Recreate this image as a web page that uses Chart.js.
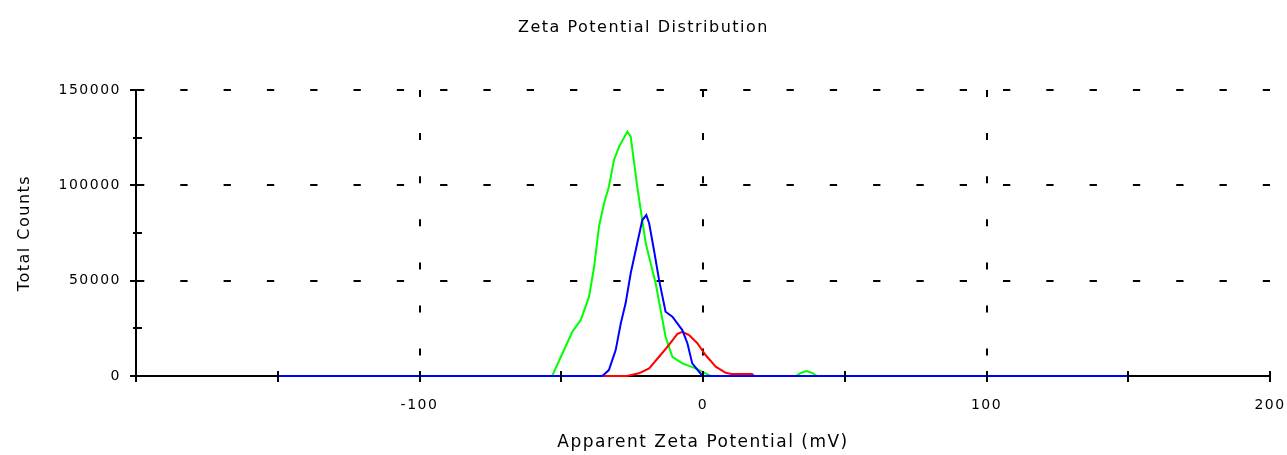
<!DOCTYPE html>
<html>
<head>
<meta charset="utf-8">
<title>Zeta Potential Distribution</title>
<script src="https://cdn.jsdelivr.net/npm/chart.js@4/dist/chart.umd.min.js"></script>
<style>
  html, body { margin: 0; padding: 0; background: #ffffff; overflow: hidden; }
  #wrap { width: 1287px; height: 455px; }
</style>
</head>
<body>
<div id="wrap"><canvas id="zeta" width="1287" height="455" style="width:1287px;height:455px"></canvas></div>
<script>
// Apparent zeta potential (mV) vs total counts, three measurement runs
const greenZeta   = [-150, -53.2, -46.1, -43.1, -40.2, -38.4, -36.7, -34.9, -33.2, -31.4, -29.6, -26.7, -25.5, -23.2, -20.2, -16.7, -13.2, -10.8, -7.3, -2.6, 0.9, 2.7, 32.7, 34.5, 36.5, 38.5, 40.2, 150];
const greenCounts = [0, 0, 23200, 29400, 41600, 57300, 78300, 90600, 99300, 113300, 120300, 128100, 125500, 99300, 69600, 48600, 20600, 10100, 6600, 4000, 1400, 0, 0, 1600, 2600, 1600, 0, 0];

const blueZeta    = [-150, -35.5, -33.2, -30.8, -29.0, -27.3, -25.5, -23.2, -21.4, -20.0, -19.0, -17.3, -15.5, -13.2, -10.8, -7.3, -5.5, -3.8, -0.2, 150];
const blueCounts  = [0, 0, 3100, 13600, 27600, 38100, 53900, 69600, 81800, 84400, 80100, 66100, 50400, 33700, 31100, 24100, 17200, 6600, 0, 0];

const redZeta     = [-150, -26.8, -22.6, -19.0, -15.5, -12.0, -9.1, -7.3, -4.9, -2.0, 0.9, 4.5, 8.0, 10.0, 17.3, 18.0, 150];
const redCounts   = [0, 0, 1400, 4000, 10100, 16300, 22000, 23200, 21500, 17200, 11000, 4900, 1700, 1000, 1000, 0, 0];

// Axis ranges and labelled ticks
const zetaRange   = [-200, 200];
const zetaStep    = 50;
const zetaLabels  = [-100, 0, 100, 200];
const countRange  = [0, 150000];
const countStep   = 25000;
const countLabels = [0, 50000, 100000, 150000];
const zetaGrid    = [-100, 0, 100];
const countGrid   = [50000, 100000, 150000];

const toPoints = (xs, ys) => xs.map((x, i) => ({ x: x, y: ys[i] }));

Chart.defaults.font.family = "'DejaVu Sans', Verdana, sans-serif";
Chart.defaults.color = '#000000';

// Wide, loosely spaced lettering
const spacing = {
  id: 'spacing',
  beforeUpdate(chart) { chart.ctx.letterSpacing = '1.5px'; },
  beforeDraw(chart) { chart.ctx.letterSpacing = '1.5px'; }
};

// Tick marks that cross both axes
const crossTicks = {
  id: 'crossTicks',
  afterDraw(chart) {
    const { ctx, chartArea: a, scales: { x, y } } = chart;
    ctx.save();
    ctx.strokeStyle = '#000000';
    ctx.lineWidth = 2;
    ctx.beginPath();
    x.ticks.forEach(t => {
      const px = Math.round(x.getPixelForValue(t.value));
      ctx.moveTo(px, a.bottom - 5);
      ctx.lineTo(px, a.bottom + 6);
    });
    y.ticks.forEach(t => {
      const py = Math.round(y.getPixelForValue(t.value));
      const major = t.value % 50000 === 0;
      ctx.moveTo(a.left - (major ? 6 : 3), py);
      ctx.lineTo(a.left + 6, py);
    });
    ctx.stroke();
    ctx.restore();
  }
};

const line = (label, color, xs, ys, order) => ({
  label: label,
  data: toPoints(xs, ys),
  borderColor: color,
  backgroundColor: color,
  borderWidth: 2,
  pointRadius: 0,
  tension: 0,
  fill: false,
  clip: false,
  order: order
});

new Chart(document.getElementById('zeta'), {
  type: 'line',
  data: {
    datasets: [
      line('Record 1', '#0000ff', blueZeta, blueCounts, 0),
      line('Record 2', '#ff0000', redZeta, redCounts, 1),
      line('Record 3', '#00ff00', greenZeta, greenCounts, 2)
    ]
  },
  plugins: [spacing, crossTicks],
  options: {
    responsive: false,
    devicePixelRatio: 1,
    animation: false,
    layout: { padding: 0 },
    plugins: {
      legend: { display: false },
      tooltip: { enabled: false },
      title: {
        display: true,
        text: 'Zeta Potential Distribution',
        color: '#000000',
        font: { size: 16, weight: 'normal' },
        padding: { top: 18, bottom: 52.8 }
      }
    },
    scales: {
      x: {
        type: 'linear',
        min: zetaRange[0],
        max: zetaRange[1],
        afterFit(scale) {
          scale.height = 79;
          scale.paddingLeft = 0;
          scale.paddingRight = 17;
        },
        border: { display: true, color: '#000000', width: 2, dash: [7, 36.1] },
        grid: {
          drawTicks: false,
          lineWidth: 2,
          color: ctx => (ctx.tick && zetaGrid.includes(ctx.tick.value)) ? '#000000' : 'rgba(0,0,0,0)'
        },
        ticks: {
          stepSize: zetaStep,
          autoSkip: false,
          maxRotation: 0,
          padding: 21,
          font: { size: 14 },
          color: '#000000',
          callback: v => zetaLabels.includes(v) ? String(v) : ''
        },
        title: {
          display: true,
          text: 'Apparent Zeta Potential (mV)',
          color: '#000000',
          font: { size: 17 },
          padding: { top: 0, bottom: 2 }
        }
      },
      y: {
        type: 'linear',
        min: countRange[0],
        max: countRange[1],
        afterFit(scale) {
          scale.width = 136;
          scale.paddingTop = 0;
          scale.paddingBottom = 0;
        },
        border: { display: true, color: '#000000', width: 2, dash: [7.3, 36] },
        grid: {
          drawTicks: false,
          lineWidth: 2,
          color: ctx => (ctx.tick && countGrid.includes(ctx.tick.value)) ? '#000000' : 'rgba(0,0,0,0)'
        },
        ticks: {
          stepSize: countStep,
          autoSkip: false,
          padding: 15,
          font: { size: 14 },
          color: '#000000',
          callback: v => countLabels.includes(v) ? String(v) : ''
        },
        title: {
          display: true,
          text: 'Total Counts',
          color: '#000000',
          font: { size: 16 },
          padding: { top: 15, bottom: 0 }
        }
      }
    }
  }
});
</script>
</body>
</html>
